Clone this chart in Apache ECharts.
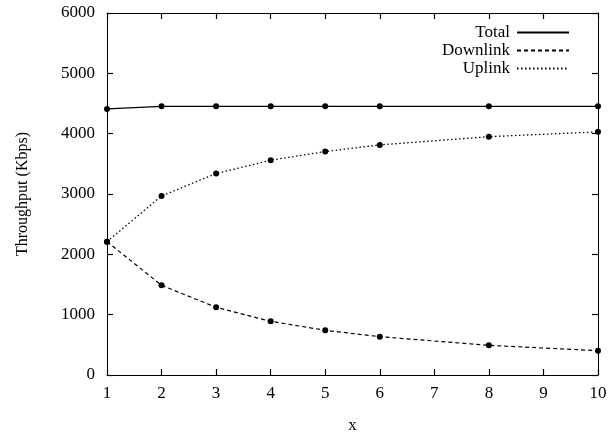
<!DOCTYPE html>
<html>
<head>
<meta charset="utf-8">
<script src="https://cdn.jsdelivr.net/npm/echarts@6/dist/echarts.min.js"></script>
<style>html,body{margin:0;padding:0;background:#fff}#c{width:611px;height:434px}</style>
</head>
<body>
<div id="c"></div>
<script>
const xValues = [1, 2, 3, 4, 5, 6, 8, 10];
const totalValues = [4410, 4454, 4454, 4454, 4454, 4454, 4454, 4454];
const downlinkValues = [2210, 1487, 1122, 890, 741, 635, 492, 403];
const uplinkValues = [2210, 2968, 3338, 3560, 3703, 3814, 3950, 4030];
const seriesNames = ['Total', 'Downlink', 'Uplink'];

const font = 'Liberation Serif';
const chart = echarts.init(document.getElementById('c'));
const pair = arr => xValues.map((x, i) => [x, arr[i]]);
const lineStyles = [
  { type: 'solid', width: 1.3 },
  { type: [4, 3], width: 1.2 },
  { type: [1.5, 2.5], width: 1.3 }
];
const dataSets = [totalValues, downlinkValues, uplinkValues];

function tick(color) {
  return { show: true, inside: true, length: 6, lineStyle: { color: color, width: 1.2 } };
}
const line = { show: true, onZero: false, lineStyle: { color: '#000', width: 1 } };

chart.setOption({
  animation: false,
  grid: { left: 107, right: 13, top: 13, bottom: 59, outerBoundsMode: 'none', containLabel: false },
  legend: {
    right: 36, top: 19,
    orient: 'vertical',
    align: 'right',
    itemWidth: 52, itemHeight: 8, itemGap: 1,
    textStyle: { fontFamily: font, fontSize: 17, color: '#000', lineHeight: 16, padding: [0, 2, 0, 0] },
    itemStyle: { opacity: 0 },
    data: seriesNames
  },
  xAxis: [
    {
      type: 'value', min: 1, max: 10, interval: 1, position: 'bottom',
      axisLine: line, axisTick: tick('#000'), splitLine: { show: false },
      name: 'x', nameLocation: 'middle', nameGap: 42,
      nameTextStyle: { fontFamily: font, fontSize: 17, color: '#000' },
      axisLabel: { fontFamily: font, fontSize: 17, color: '#000', margin: 10 }
    },
    {
      type: 'value', min: 1, max: 10, interval: 1, position: 'top',
      axisLine: line, axisTick: tick('#000'), splitLine: { show: false },
      axisLabel: { show: false }
    }
  ],
  yAxis: [
    {
      type: 'value', min: 0, max: 6000, interval: 1000, position: 'left',
      axisLine: line, axisTick: tick('#000'), splitLine: { show: false },
      name: 'Throughput (Kbps)', nameLocation: 'middle', nameGap: 76,
      nameTextStyle: { fontFamily: font, fontSize: 16, color: '#000' },
      axisLabel: { fontFamily: font, fontSize: 17, color: '#000', margin: 12, formatter: v => String(v) }
    },
    {
      type: 'value', min: 0, max: 6000, interval: 1000, position: 'right',
      axisLine: line, axisTick: tick('#000'), splitLine: { show: false },
      axisLabel: { show: false }
    }
  ],
  series: seriesNames.map((n, i) => ({
    name: n,
    type: 'line',
    data: pair(dataSets[i]),
    symbol: 'circle',
    symbolSize: 6,
    itemStyle: { color: '#000' },
    lineStyle: Object.assign({ color: '#000' }, lineStyles[i]),
    z: 3 - i
  }))
});
</script>
</body>
</html>
